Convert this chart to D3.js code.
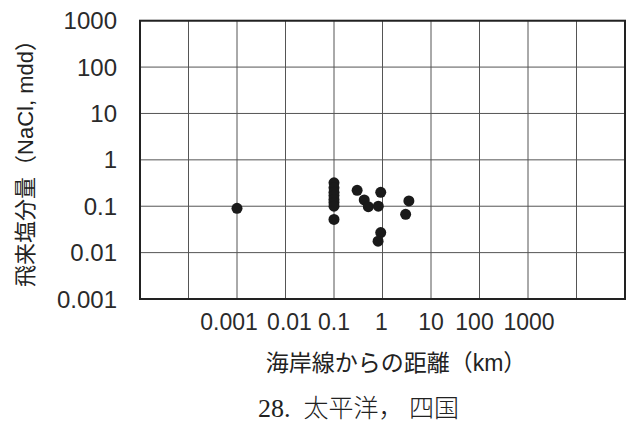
<!DOCTYPE html>
<html>
<head>
<meta charset="utf-8">
<script src="https://cdn.jsdelivr.net/npm/d3@7"></script>
<style>
  body { margin: 0; background: #fff; }
  svg { display: block; }
</style>
</head>
<body>
<svg id="chart" width="630" height="424"></svg>
<script>
// distance from coast (km) and airborne salt (NaCl, mdd)
const distance_km = [0.001, 0.1, 0.1, 0.1, 0.1, 0.1, 0.1, 0.1, 0.1, 0.3, 0.42, 0.51, 0.92, 0.82, 0.92, 0.81, 3.5, 3.0];
const salt_mdd = [0.09, 0.32, 0.25, 0.2, 0.17, 0.14, 0.12, 0.1, 0.052, 0.22, 0.137, 0.098, 0.2, 0.1, 0.027, 0.0176, 0.13, 0.067];

const x_grid = [1e-5, 1e-4, 1e-3, 1e-2, 1e-1, 1, 10, 100, 1000, 1e4, 1e5];
const x_tick_labels = ["0.001", "0.01", "0.1", "1", "10", "100", "1000"];
const x_tick_values = [1e-3, 1e-2, 1e-1, 1, 10, 100, 1000];
const y_ticks = [0.001, 0.01, 0.1, 1, 10, 100, 1000];
const y_tick_labels = ["0.001", "0.01", "0.1", "1", "10", "100", "1000"];

const x_title = "海岸線からの距離（km）";
const y_title = "飛来塩分量（NaCl, mdd）";
const caption_num = "28.";
const caption_text = "太平洋， 四国";

const svg = d3.select("#chart");
const plot_left = 140, plot_right = 625, plot_top = 20.7, plot_bottom = 299;

const x = d3.scaleLog().domain([1e-5, 1e5]).range([plot_left, plot_right]);
const y = d3.scaleLog().domain([0.001, 1000]).range([plot_bottom, plot_top]);

const sans = "'Liberation Sans', Arial, sans-serif";
const mixed = "'Liberation Sans', 'Noto Sans CJK JP', sans-serif";

// grid
svg.append("g")
  .selectAll("line")
  .data(x_grid)
  .enter()
  .append("line")
  .attr("x1", (d) => x(d))
  .attr("x2", (d) => x(d))
  .attr("y1", plot_top)
  .attr("y2", plot_bottom)
  .attr("stroke", "#555")
  .attr("stroke-width", 1);

svg.append("g")
  .selectAll("line")
  .data(y_ticks)
  .enter()
  .append("line")
  .attr("x1", plot_left)
  .attr("x2", plot_right)
  .attr("y1", (d) => y(d))
  .attr("y2", (d) => y(d))
  .attr("stroke", "#555")
  .attr("stroke-width", 1);

// frame
svg.append("rect")
  .attr("x", plot_left)
  .attr("y", plot_top)
  .attr("width", plot_right - plot_left)
  .attr("height", plot_bottom - plot_top)
  .attr("fill", "none")
  .attr("stroke", "#222")
  .attr("stroke-width", 2);

// y tick labels
svg.append("g")
  .selectAll("text")
  .data(y_ticks)
  .enter()
  .append("text")
  .attr("x", 117)
  .attr("y", (d) => y(d))
  .attr("dy", "0.36em")
  .attr("text-anchor", "end")
  .attr("font-family", sans)
  .attr("font-size", 24)
  .attr("fill", "#2a2a2a")
  .text((d, i) => y_tick_labels[i]);

// x tick labels (a few nudged so they don't collide)
const x_nudge = [-8, 4, 0, -1, 0, -5, 1];
svg.append("g")
  .selectAll("text")
  .data(x_tick_values)
  .enter()
  .append("text")
  .attr("x", (d, i) => x(d) + x_nudge[i])
  .attr("y", 330)
  .attr("text-anchor", "middle")
  .attr("font-family", sans)
  .attr("font-size", 23)
  .attr("fill", "#2a2a2a")
  .text((d, i) => x_tick_labels[i]);

// points
svg.append("g")
  .selectAll("circle")
  .data(distance_km)
  .enter()
  .append("circle")
  .attr("cx", (d) => x(d))
  .attr("cy", (d, i) => y(salt_mdd[i]))
  .attr("r", 5.5)
  .attr("fill", "#1a1a1a");

// axis titles
svg.append("text")
  .attr("x", 396)
  .attr("y", 371)
  .attr("text-anchor", "middle")
  .attr("font-family", mixed)
  .attr("font-size", 23)
  .attr("fill", "#222")
  .text(x_title);

svg.append("text")
  .attr("transform", "translate(33,158) rotate(-90)")
  .attr("text-anchor", "middle")
  .attr("font-family", mixed)
  .attr("font-size", 22)
  .attr("fill", "#222")
  .text(y_title);

// caption
const cap = svg.append("text")
  .attr("x", 258)
  .attr("y", 417)
  .attr("font-size", 26)
  .attr("fill", "#222");
cap.append("tspan")
  .attr("font-family", "'Liberation Serif', 'Times New Roman', 'DejaVu Serif', serif")
  .text(caption_num);
cap.append("tspan")
  .attr("dx", 13)
  .attr("font-family", "'Noto Sans CJK JP', sans-serif")
  .attr("font-weight", 300)
  .attr("font-size", 25)
  .text(caption_text);
</script>
</body>
</html>
